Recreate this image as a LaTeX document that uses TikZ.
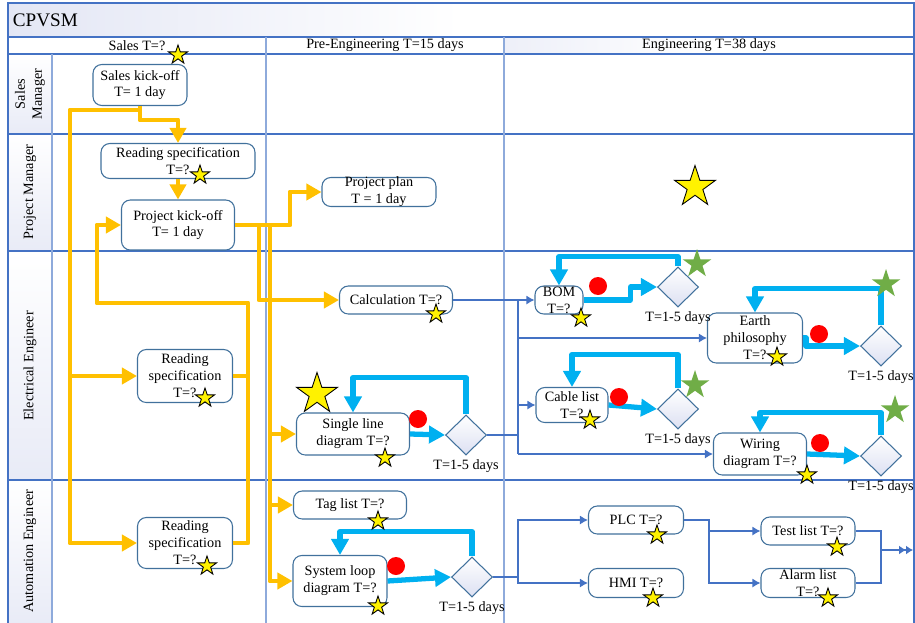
\documentclass[tikz,border=0pt]{standalone}
\usepackage{fontspec}
\setmainfont{Liberation Serif}
\usepackage{xcolor}
\usepackage{tikz}
\usetikzlibrary{arrows.meta, positioning, shapes.geometric}

\definecolor{yel}{HTML}{FFC000}
\definecolor{cyn}{HTML}{00B0F0}
\definecolor{boxc}{HTML}{41719C}
\definecolor{tcol}{HTML}{4472C4}
\definecolor{gridc}{HTML}{4472C4}
\definecolor{gridl}{HTML}{8EAADB}
\definecolor{lav}{HTML}{DCE0F2}
\definecolor{grn}{HTML}{70AD47}
\newcommand{\nf}{\fontsize{8.1}{9.6}\selectfont}

\begin{document}
\begin{tikzpicture}[
      x=0.02cm, y=-0.02cm,
      task/.style={draw=boxc, line width=0.6pt, rounded corners=5pt, fill=white, align=center, inner sep=1pt, font=\nf},
      dia/.style={diamond, draw=boxc, line width=0.6pt, aspect=1, minimum width=0.82cm, minimum height=0.8cm, inner sep=0pt, top color=white, bottom color=lav},
      lbl/.style={font=\nf, inner sep=1pt, align=center},
      ystar/.style={star, star points=5, star point ratio=2.6, draw=black, line width=0.5pt, fill=yellow, minimum size=0.4cm, inner sep=0pt},
      bigstar/.style={ystar, minimum size=0.86cm},
      gstar/.style={ystar, draw=none, fill=grn, minimum size=0.6cm},
      rdot/.style={circle, fill=red, minimum size=0.36cm, inner sep=0pt},
      yarrow/.style={yel, line width=2.8pt, line join=round, -{Triangle[length=3mm, width=3.2mm]}},
      yline/.style={yel, line width=2.8pt, line join=round},
      barrow/.style={cyn, line width=3pt, line join=round, -{Triangle[length=3.2mm, width=3.4mm]}},
      tarrow/.style={tcol, line width=0.7pt, -{Latex[length=1.6mm, width=1.8mm]}},
      tline/.style={tcol, line width=0.7pt},
      lane/.style={draw=gridc, line width=0.7pt},
      lanel/.style={draw=gridl, line width=0.7pt}
    ]
    \useasboundingbox (0,0) rectangle (915,622);

    \shade[left color=lav!80, right color=white, middle color=white] (8,3) rectangle (914,37);
    \shade[left color=lav!50, right color=white, middle color=white] (504,37) rectangle (914,54);
    \shade[shading angle=-30, top color=white, bottom color=lav!65] (8,54) rectangle (52,134);
    \shade[shading angle=-30, top color=white, bottom color=lav!65] (8,134) rectangle (52,251);
    \shade[shading angle=-30, top color=white, bottom color=lav!65] (8,251) rectangle (52,480);
    \shade[shading angle=-30, top color=white, bottom color=lav!65] (8,480) rectangle (52,626);

    \draw[lane] (8,626) -- (8,3) -- (914,3) -- (914,626);
    \draw[lane] (8,37) -- (914,37);
    \draw[lane] (8,54) -- (914,54);
    \draw[lane] (8,134) -- (914,134);
    \draw[lane] (8,251) -- (914,251);
    \draw[lane] (8,480) -- (914,480);
    \draw[lanel] (52,54) -- (52,626);
    \draw[lanel] (266,37) -- (266,626);
    \draw[lanel] (504,37) -- (504,626);

    \node[anchor=west, inner sep=2pt, font=\fontsize{10.9}{13}\selectfont] (title) at (9,20) {CPVSM};
    \node[lbl] (hs) at (137,45.5) {Sales T=?};
    \node[lbl] (hp) at (385,45.5) {Pre-Engineering T=15 days};
    \node[lbl] (he) at (709,45.5) {Engineering T=38 days};
    \node[lbl, rotate=90] (l1) at (30,94) {Sales\\Manager};
    \node[lbl, rotate=90] (l2) at (30,192) {Project Manager};
    \node[lbl, rotate=90] (l3) at (30,366) {Electrical Engineer};
    \node[lbl, rotate=90] (l4) at (30,551) {Automation Engineer};

    \coordinate (lbus) at (70,110);
    \coordinate (rbus) at (248,303);
    \coordinate (kbus) at (97,303);
    \coordinate (pbus) at (270,225);
    \coordinate (ebus) at (518,300);
    \coordinate (abus) at (518,577);
    \coordinate (mbus) at (881,550);
    \coordinate (out) at (913,550);

    \node[task, minimum width=1.88cm, minimum height=0.82cm] (sko) at (140,85) {Sales kick-off\\T= 1 day};
    \node[task, minimum width=3.08cm, minimum height=0.7cm] (rs1) at (178,161) {Reading specification\\T=?};
    \node[task, minimum width=2.26cm, minimum height=1cm] (pko) at (178,225) {Project kick-off\\T= 1 day};
    \node[task, minimum width=2.28cm, minimum height=0.58cm, inner ysep=-1pt] (pp) at (379,192) {Project plan\\T = 1 day};
    \node[task, minimum width=2.26cm, minimum height=0.56cm] (cal) at (396,300) {Calculation T=?};
    \node[task, minimum width=1.9cm, minimum height=1.06cm] (rs2) at (185,376) {Reading\\specification\\T=?};
    \node[task, minimum width=2.26cm, minimum height=0.84cm] (sld) at (353,434) {Single line\\diagram T=?};
    \node[task, minimum width=2.26cm, minimum height=0.56cm] (tag) at (350,505) {Tag list T=?};
    \node[task, minimum width=1.88cm, minimum height=1.02cm] (slp) at (340,581) {System loop\\diagram T=?};
    \node[task, minimum width=1.9cm, minimum height=1.02cm] (rs3) at (185,543) {Reading\\specification\\T=?};
    \node[task, minimum width=0.96cm, minimum height=0.56cm, inner ysep=-1pt] (bom) at (559,300) {BOM\\T=?};
    \node[task, minimum width=1.9cm, minimum height=1cm] (ep) at (755,338) {Earth\\philosophy\\T=?};
    \node[task, minimum width=1.44cm, minimum height=0.7cm] (cab) at (572,405) {Cable list\\T=?};
    \node[task, minimum width=1.86cm, minimum height=0.84cm] (wd) at (760,454) {Wiring\\diagram T=?};
    \node[task, minimum width=1.9cm, minimum height=0.56cm] (plc) at (636,520) {PLC T=?};
    \node[task, minimum width=1.9cm, minimum height=0.58cm] (hmi) at (636,583) {HMI T=?};
    \node[task, minimum width=1.88cm, minimum height=0.56cm] (tst) at (808,531) {Test list T=?};
    \node[task, minimum width=1.88cm, minimum height=0.58cm, inner ysep=-1pt] (alm) at (808,583) {Alarm list\\T=?};

    \node[dia] (d1) at (466,435) {};
    \node[dia] (d2) at (472,577) {};
    \node[dia] (d3) at (678,287) {};
    \node[dia] (d4) at (881,346) {};
    \node[dia] (d5) at (678,409) {};
    \node[dia] (d6) at (881,456) {};

    \draw[yarrow] (sko.south) -- ++(0,14) -| (rs1.north);
    \draw[yarrow] (sko.south) |- (lbus) |- (rs3.west);
    \draw[yarrow] (lbus |- rs2.west) -- (rs2.west);
    \draw[yarrow] (rs1.south) -- (pko.north);
    \draw[yarrow] (pko.east) -- ++(55,0) |- (pp.west);
    \draw[yarrow] (pko.east) -- ++(24,0) |- (cal.west);
    \draw[yarrow] (pko.east) -- (pbus) |- (slp.west);
    \draw[yarrow] (pbus |- sld.west) -- (sld.west);
    \draw[yarrow] (pbus |- tag.west) -- (tag.west);
    \draw[yline] (rs2.east) -- (rbus |- rs2.east);
    \draw[yarrow] (rs3.east) -| (rbus) -- (kbus) |- (pko.west);

    \draw[barrow] (sld.east) -- (d1.west);
    \draw[barrow] (d1.north) -- ++(0,-37) -| (sld.north);
    \draw[barrow] (slp.east) -- (d2.west);
    \draw[barrow] (d2.north) -- ++(0,-25) -| (slp.north);
    \draw[barrow] (bom.east) -- ++(47,0) |- (d3.west);
    \draw[barrow] (d3.north) -- ++(0,-10) -| (bom.north);
    \draw[barrow] (ep.east) -- ++(3,0) |- (d4.west);
    \draw[barrow] (d4.north) -- ++(0,-37) -| (ep.north);
    \draw[barrow] (cab.east) -- (d5.west);
    \draw[barrow] (d5.north) -- ++(0,-34) -| (cab.north);
    \draw[barrow] (wd.east) -- (d6.west);
    \draw[barrow] (d6.north) -- ++(0,-23) -| (wd.north);

    \draw[tarrow] (cal.east) -- (bom.west);
    \draw[tline] (ebus) -- (ebus |- wd.west);
    \draw[tline] (d1.east) -- (ebus |- d1.east);
    \draw[tarrow] (ebus |- ep.west) -- (ep.west);
    \draw[tarrow] (ebus |- cab.west) -- (cab.west);
    \draw[tarrow] (ebus |- wd.west) -- (wd.west);
    \draw[tline] (d2.east) -- (abus);
    \draw[tarrow] (abus) |- (plc.west);
    \draw[tarrow] (abus) |- (hmi.west);
    \draw[tarrow] (plc.east) -- ++(25,0) |- (tst.west);
    \draw[tarrow] (plc.east) -- ++(25,0) |- (alm.west);
    \draw[tline] (tst.east) -| (mbus);
    \draw[tline] (alm.east) -| (mbus);
    \draw[tcol, line width=0.7pt, -{Latex[length=1.4mm, width=1.8mm] Latex[length=1.4mm, width=1.8mm]}] (mbus) -- (out);

    \node[lbl, below=1pt of d1] (t1) {T=1-5 days};
    \node[lbl, below=1pt of d2] (t2) {T=1-5 days};
    \node[lbl, below=1pt of d3] (t3) {T=1-5 days};
    \node[lbl, below=1pt of d4] (t4) {T=1-5 days};
    \node[lbl, below=1pt of d5] (t5) {T=1-5 days};
    \node[lbl, below=1pt of d6] (t6) {T=1-5 days};

    \node[rdot] (r1) at (418,419) {};
    \node[rdot] (r2) at (396,566) {};
    \node[rdot] (r3) at (598,286) {};
    \node[rdot] (r4) at (819,334) {};
    \node[rdot] (r5) at (619,397) {};
    \node[rdot] (r6) at (820,443) {};

    \node[bigstar] (b1) at (317,394) {};
    \node[bigstar] (b2) at (695,187) {};
    \node[gstar] (g1) at (697,264) {};
    \node[gstar] (g2) at (886,284) {};
    \node[gstar] (g3) at (695,385) {};
    \node[gstar] (g4) at (895,410) {};

    \node[ystar] (s1) at (178,55) {};
    \node[ystar] (s2) at (200,175) {};
    \node[ystar] (s3) at (436,314) {};
    \node[ystar] (s4) at (205,398) {};
    \node[ystar] (s5) at (385,458) {};
    \node[ystar] (s6) at (378,521) {};
    \node[ystar] (s7) at (378,606) {};
    \node[ystar] (s8) at (207,566) {};
    \node[ystar] (s9) at (581,318) {};
    \node[ystar] (s10) at (777,357) {};
    \node[ystar] (s11) at (590,420) {};
    \node[ystar] (s12) at (807,475) {};
    \node[ystar] (s13) at (657,535) {};
    \node[ystar] (s14) at (653,598) {};
    \node[ystar] (s15) at (837,547) {};
    \node[ystar] (s16) at (828,598) {};
\end{tikzpicture}
\end{document}
